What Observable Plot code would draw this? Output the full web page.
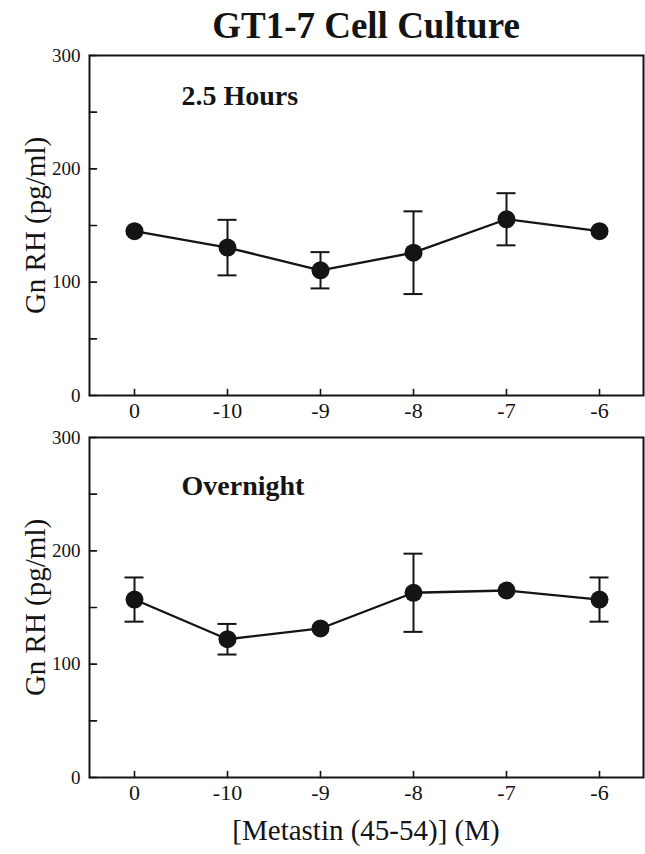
<!DOCTYPE html>
<html><head><meta charset="utf-8">
<script src="https://cdn.jsdelivr.net/npm/d3@7"></script>
<script src="https://cdn.jsdelivr.net/npm/@observablehq/plot@0.6"></script>
<style>
body{margin:0;background:#fff}
#c{position:relative;width:645px;height:854px;font-family:"Liberation Serif","Times New Roman",serif;color:#141414}
#c .t{position:absolute;left:89px;width:554px;text-align:center;white-space:nowrap}
#c svg{position:absolute;left:0;overflow:visible}
#c svg, #c svg text{font-family:"Liberation Serif","Times New Roman",serif !important}
</style>
</head><body><div id="c"></div>
<script>
const doses = ["0", "-10", "-9", "-8", "-7", "-6"];
const hoursMean = [145, 130.5, 110.5, 126, 155.5, 145];
const hoursErr = [0, 24.5, 16, 36.5, 23, 0];
const overnightMean = [157, 122, 131.5, 163, 165, 157];
const overnightErr = [19.5, 13.5, 0, 34.5, 0, 19.5];
const yTicks = [0, 100, 200, 300];
const yMinorTicks = [50, 150, 250];
const titleText = "GT1-7 Cell Culture";
const yLabel = "Gn RH (pg/ml)";
const xLabel = "[Metastin (45-54)] (M)";
const panelLabels = ["2.5 Hours", "Overnight"];

const ink = "#141414";
const serif = '"Liberation Serif","Times New Roman",serif';
const c = document.getElementById("c");

// inward tick shapes
const tickRight = {draw(ctx, l) { ctx.moveTo(0, 0); ctx.lineTo(l, 0); }};
const tickUp = {draw(ctx, l) { ctx.moveTo(0, 0); ctx.lineTo(0, -l); }};

function panel(means, errs, label, labelDy, top, height, mTop, mBottom) {
  const data = doses.map((d, i) => ({dose: d, m: means[i], e: errs[i]}));
  const withErr = data.filter(d => d.e > 0);
  const p = Plot.plot({
    width: 645, height,
    marginLeft: 89, marginRight: 2, marginTop: mTop, marginBottom: mBottom,
    style: {fontFamily: serif, color: ink, background: "transparent"},
    x: {type: "point", domain: doses, padding: 0.47, label: null},
    y: {domain: [0, 300], label: null},
    marks: [
      Plot.axisY({ticks: yTicks, tickSize: 0, tickPadding: 9, fontSize: 19, label: null, fontFamily: serif, fill: ink}),
      Plot.axisX({tickSize: 0, tickPadding: 7, fontSize: 22, label: null, fontFamily: serif, fill: ink}),
      Plot.vector(yTicks.concat(yMinorTicks), {y: d => d, frameAnchor: "left", length: 7, anchor: "start", shape: tickRight, stroke: ink, strokeWidth: 1.6}),
      Plot.vector(doses, {x: d => d, frameAnchor: "bottom", length: 6, anchor: "start", shape: tickUp, stroke: ink, strokeWidth: 1.6}),
      Plot.frame({stroke: ink, strokeWidth: 2}),
      Plot.ruleX(withErr, {x: "dose", y1: d => d.m - d.e, y2: d => d.m + d.e, stroke: ink, strokeWidth: 2}),
      Plot.ruleY(withErr, {x1: "dose", x2: "dose", y: d => d.m + d.e, stroke: ink, strokeWidth: 2, insetLeft: -9.5, insetRight: -9.5}),
      Plot.ruleY(withErr, {x1: "dose", x2: "dose", y: d => d.m - d.e, stroke: ink, strokeWidth: 2, insetLeft: -9.5, insetRight: -9.5}),
      Plot.line(data, {x: "dose", y: "m", stroke: ink, strokeWidth: 2.3}),
      Plot.dot(data, {x: "dose", y: "m", r: 9, fill: ink, stroke: null}),
      Plot.text([label], {frameAnchor: "top-left", text: d => d, dx: 92, dy: labelDy, textAnchor: "start", lineAnchor: "top", fontSize: 28, fontWeight: "bold", fontFamily: serif, fill: ink}),
      Plot.text([yLabel], {frameAnchor: "left", text: d => d, rotate: -90, dx: -54, textAnchor: "middle", fontSize: 29, fontFamily: serif, fill: ink})
    ]
  });
  p.style.top = top + "px";
  c.appendChild(p);
}

const title = document.createElement("div");
title.className = "t";
title.style.top = "4px";
title.style.fontSize = "37px";
title.style.fontWeight = "bold";
title.textContent = titleText;
c.appendChild(title);

panel(hoursMean, hoursErr, panelLabels[0], 30, 0, 420, 55, 25);
panel(overnightMean, overnightErr, panelLabels[1], 38, 420, 390, 17, 33);

const xl = document.createElement("div");
xl.className = "t";
xl.style.top = "814px";
xl.style.fontSize = "29px";
xl.textContent = xLabel;
c.appendChild(xl);
</script>
</body></html>
